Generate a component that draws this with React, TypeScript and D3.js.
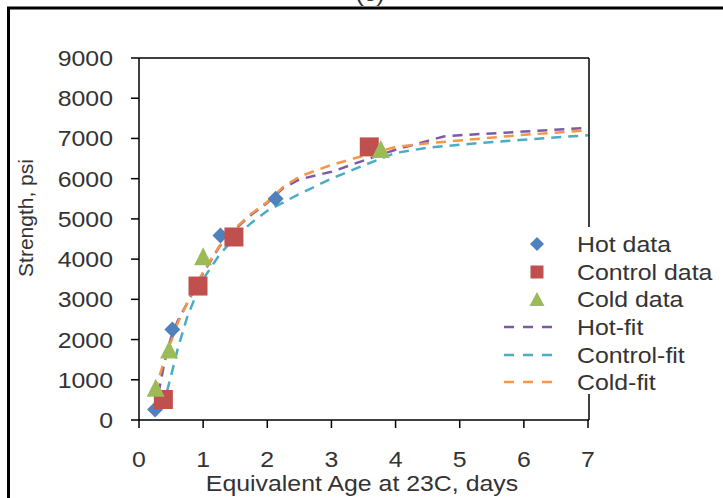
import React from "react";
import * as d3 from "d3";

const xTicks = [0, 1, 2, 3, 4, 5, 6, 7];
const yTicks = [0, 1000, 2000, 3000, 4000, 5000, 6000, 7000, 8000, 9000];

const hotX = [0.25, 0.52, 1.27, 2.13];
const hotY = [260, 2250, 4590, 5500];
const controlX = [0.38, 0.92, 1.48, 3.59];
const controlY = [510, 3330, 4550, 6790];
const coldX = [0.26, 0.47, 1.0, 3.77];
const coldY = [800, 1750, 4070, 6740];

const hotFitX = [0.25, 0.3, 0.4, 0.5, 0.6, 0.75, 0.9, 1.0, 1.25, 1.5, 1.75, 2.0, 2.25, 2.5, 2.75, 3.0, 3.5, 4.0, 4.5, 4.75, 5.0, 6.0, 7.0];
const hotFitY = [250, 650, 1450, 2050, 2450, 2900, 3350, 3650, 4300, 4750, 5100, 5400, 5770, 5980, 6080, 6170, 6450, 6720, 6940, 7050, 7080, 7170, 7265];
const controlFitX = [0.38, 0.45, 0.5, 0.6, 0.75, 0.9, 1.0, 1.25, 1.5, 1.75, 2.0, 2.5, 3.0, 3.5, 4.0, 4.5, 5.0, 6.0, 7.0];
const controlFitY = [300, 800, 1100, 1750, 2550, 3150, 3500, 4100, 4550, 4900, 5200, 5620, 6000, 6330, 6640, 6770, 6845, 6970, 7080];
const coldFitX = [0.25, 0.3, 0.4, 0.5, 0.6, 0.75, 0.9, 1.0, 1.25, 1.5, 1.75, 2.0, 2.25, 2.5, 2.75, 3.0, 3.5, 4.0, 4.5, 5.0, 6.0, 7.0];
const coldFitY = [700, 1000, 1500, 1950, 2400, 2900, 3380, 3680, 4320, 4770, 5130, 5420, 5800, 6050, 6200, 6340, 6570, 6790, 6880, 6950, 7090, 7200];

const legendLabels = ["Hot data", "Control data", "Cold data", "Hot-fit", "Control-fit", "Cold-fit"];

const C = {
  hot: "#4F81BD",
  control: "#C0504D",
  cold: "#9BBB59",
  hotFit: "#7B5BA6",
  controlFit: "#4BACC6",
  coldFit: "#F79646",
};

const FONT = "'Liberation Sans', Arial, sans-serif";
const SX = 1.13;
const TEXT_FILL = "#333";

function diamond(cx: number, cy: number, r: number) {
  return `M${cx},${cy - r}L${cx + r},${cy}L${cx},${cy + r}L${cx - r},${cy}Z`;
}
function triangle(cx: number, cy: number, w: number, h: number) {
  return `M${cx},${cy - h / 2}L${cx + w / 2},${cy + h / 2}L${cx - w / 2},${cy + h / 2}Z`;
}

export default function App() {
  const W = 723, H = 498;
  const left = 139, right = 589, top = 58, bottom = 420;
  const x = d3.scaleLinear().domain([0, 7]).range([left, right - 1]);
  const y = d3.scaleLinear().domain([0, 9000]).range([bottom, top]);

  const line = (xs: number[], ys: number[]) =>
    d3.line<number>().x((d, i) => x(xs[i])).y((d) => y(d))(ys) || "";

  const txt = (s: string, tx: number, ty: number, anchor: string, size = 22) => (
    <text
      key={s + tx + ty}
      transform={`translate(${tx},${ty}) scale(${SX},1)`}
      textAnchor={anchor as any}
      fontSize={size}
      fontFamily={FONT}
      fill={TEXT_FILL}
    >
      {s}
    </text>
  );

  const legRows = [244, 272, 299, 327, 355, 382];
  const legMarkX = 537;
  const legTextX = 577;

  return (
    <svg
      width={W}
      height={H}
      style={{ position: "absolute", left: 0, top: 0, display: "block", background: "#fff" }}
    >
      <rect x={0} y={0} width={W} height={H} fill="#fff" />
      {/* outer frame */}
      <rect x={8.5} y={8} width={W + 20} height={H + 20} fill="none" stroke="#000" strokeWidth={3} />
      {/* title partially visible (cut off at the top, as in the reference) */}
      {txt("(c)", 370, 1, "middle", 22)}

      {/* plot border */}
      <line x1={left} y1={top} x2={right} y2={top} stroke="#000" strokeWidth={1.5} />
      <line x1={right} y1={top} x2={right} y2={bottom} stroke="#000" strokeWidth={1.5} />
      <line x1={left} y1={top} x2={left} y2={bottom} stroke="#000" strokeWidth={1.5} />
      <line x1={left} y1={bottom} x2={right} y2={bottom} stroke="#000" strokeWidth={1.5} />

      {/* y ticks */}
      {yTicks.map((t) => (
        <g key={"y" + t}>
          <line x1={left - 8} x2={left} y1={y(t)} y2={y(t)} stroke="#000" strokeWidth={1.5} />
          {txt(String(t), 113, y(t) + 8, "end")}
        </g>
      ))}
      {/* x ticks */}
      {xTicks.map((t) => (
        <g key={"x" + t}>
          <line x1={x(t)} x2={x(t)} y1={bottom} y2={bottom + 8} stroke="#000" strokeWidth={1.5} />
          {txt(String(t), x(t), 467, "middle")}
        </g>
      ))}

      {/* axis titles */}
      {txt("Equivalent Age at 23C, days", 362, 491, "middle")}
      <text
        transform={`translate(33,218) rotate(-90)`}
        textAnchor="middle"
        fontSize={21}
        fontFamily={FONT}
        fill={TEXT_FILL}
      >
        Strength, psi
      </text>

      {/* fit lines */}
      <path d={line(controlFitX, controlFitY)} fill="none" stroke={C.controlFit} strokeWidth={2.5} strokeDasharray="10,7" />
      <path d={line(hotFitX, hotFitY)} fill="none" stroke={C.hotFit} strokeWidth={2.5} strokeDasharray="10,7" />
      <path d={line(coldFitX, coldFitY)} fill="none" stroke={C.coldFit} strokeWidth={2.5} strokeDasharray="10,7" />

      {/* markers */}
      {hotY.map((v, i) => (
        <path key={"h" + i} d={diamond(x(hotX[i]), y(v), 8)} fill={C.hot} />
      ))}
      {controlY.map((v, i) => (
        <rect key={"c" + i} x={x(controlX[i]) - 9.5} y={y(v) - 9.5} width={19} height={19} fill={C.control} />
      ))}
      {coldY.map((v, i) => (
        <path key={"k" + i} d={triangle(x(coldX[i]), y(v), 18, 18)} fill={C.cold} />
      ))}

      {/* legend */}
      <rect x={495} y={227} width={226} height={167} fill="#fff" />
      <path d={diamond(legMarkX, legRows[0], 7)} fill={C.hot} />
      <rect x={legMarkX - 6.5} y={legRows[1] - 6.5} width={13} height={13} fill={C.control} />
      <path d={triangle(legMarkX, legRows[2], 15, 14)} fill={C.cold} />
      {[C.hotFit, C.controlFit, C.coldFit].map((c, i) => (
        <line key={"l" + i} x1={504} x2={558} y1={legRows[3 + i]} y2={legRows[3 + i]} stroke={c} strokeWidth={2.5} strokeDasharray="10,9" />
      ))}
      {legendLabels.map((s, i) => txt(s, legTextX, legRows[i] + 8, "start"))}
    </svg>
  );
}
